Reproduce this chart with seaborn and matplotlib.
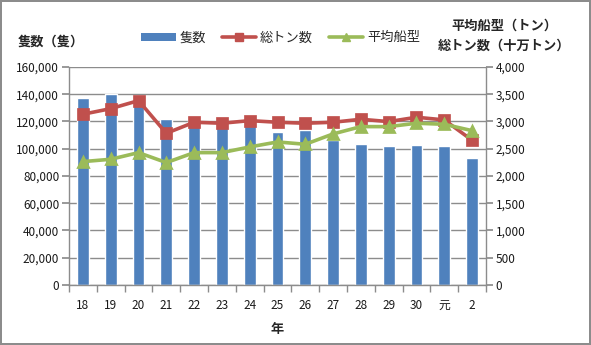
import matplotlib
matplotlib.use("Agg")
import matplotlib.pyplot as plt
import seaborn as sns
import numpy as np
import pandas as pd
from matplotlib.lines import Line2D
from matplotlib.patches import Patch
from matplotlib.ticker import FuncFormatter, MultipleLocator, FixedLocator

years = ["18", "19", "20", "21", "22", "23", "24", "25", "26", "27", "28", "29", "30", "元", "2"]
ships = [137300, 140200, 138200, 121800, 121000, 119800, 117400, 112500, 113800, 106400, 103500, 102000, 102700, 102000, 93200]
gross_tons = [3132, 3235, 3382, 2783, 2985, 2967, 3015, 2985, 2967, 2985, 3040, 2997, 3077, 3028, 2655]
avg_size = [2263, 2306, 2428, 2245, 2428, 2428, 2532, 2624, 2581, 2771, 2905, 2905, 2967, 2948, 2831]

sns.set_theme(style="white")
plt.rcParams['font.family'] = ['Noto Sans CJK JP', 'DejaVu Sans']

BLUE = "#4F81BD"
RED = "#C0504D"
GREEN = "#9BBB59"
GRID = "#8C8C8C"

fig = plt.figure(figsize=(5.91, 3.45), dpi=100)
fig.patch.set_edgecolor("#8C8C8C")
fig.patch.set_linewidth(1.5)
ax = fig.add_axes([0.1168, 0.174, 0.7055, 0.632])

df_bar = pd.DataFrame({"year": years, "ships": ships})
sns.barplot(data=df_bar, x="year", y="ships", order=years, color=BLUE,
            width=0.42, saturation=1, ax=ax, zorder=2)

ax2 = ax.twinx()
df_line = pd.DataFrame({
    "year": years * 2,
    "value": gross_tons + avg_size,
    "series": ["総トン数"] * len(years) + ["平均船型"] * len(years),
})
sns.pointplot(data=df_line, x="year", y="value", hue="series", order=years,
              hue_order=["総トン数", "平均船型"], palette=[RED, GREEN],
              markers=["s", "^"], linestyles=["-", "-"], ax=ax2,
              markersize=7, linewidth=2.6, legend=False)

ax.set_xlim(-0.5, len(years) - 0.5)
ax.set_ylim(0, 160000)
ax2.set_ylim(0, 4000)
ax.yaxis.set_major_locator(MultipleLocator(20000))
ax2.yaxis.set_major_locator(MultipleLocator(500))
ax.yaxis.set_major_formatter(FuncFormatter(lambda v, p: f"{int(v):,}"))
ax2.yaxis.set_major_formatter(FuncFormatter(lambda v, p: f"{int(v):,}"))

ax.grid(axis="y", color=GRID, linewidth=1)
ax.set_axisbelow(True)
ax2.grid(False)

for a in (ax, ax2):
    for s in a.spines.values():
        s.set_visible(False)
ax.spines["left"].set_visible(True)
ax.spines["bottom"].set_visible(True)
ax2.spines["right"].set_visible(True)
for s in [ax.spines["left"], ax.spines["bottom"], ax2.spines["right"]]:
    s.set_color(GRID)
    s.set_linewidth(1)

ax.set_xlabel("年", fontsize=9.5, fontweight="bold", labelpad=7)
ax.set_ylabel("")
ax2.set_ylabel("")
ax2.set_xlabel("")

ax.tick_params(axis="y", which="major", direction="out", length=5, color=GRID,
               labelsize=8.5, labelcolor="#1a1a1a", pad=2, left=True)
ax2.tick_params(axis="y", which="major", direction="out", length=5, color=GRID,
                labelsize=8.5, labelcolor="#1a1a1a", pad=2, right=True)
ax.tick_params(axis="x", which="major", length=0, labelsize=8.5, labelcolor="#1a1a1a", pad=10)
ax.xaxis.set_minor_locator(FixedLocator(np.arange(-0.5, len(years), 1.0)))
ax.tick_params(axis="x", which="minor", direction="out", length=5, color=GRID, bottom=True)

fig.text(0.03, 0.88, "隻数（隻）", fontsize=9.5, fontweight="bold", ha="left", va="center")
fig.text(0.853, 0.925, "平均船型（トン）", fontsize=9.5, fontweight="bold", ha="center", va="center")
fig.text(0.853, 0.868, "総トン数（十万トン）", fontsize=9.5, fontweight="bold", ha="center", va="center")

handles = [
    Patch(facecolor=BLUE, edgecolor="none"),
    Line2D([0], [0], color=RED, lw=2.6, marker="s", markersize=6),
    Line2D([0], [0], color=GREEN, lw=2.6, marker="^", markersize=6),
]
fig.legend(handles, ["隻数", "総トン数", "平均船型"], loc="center", bbox_to_anchor=(0.475, 0.89),
           ncol=3, frameon=False, fontsize=9.5, handlelength=2.6, handleheight=0.5,
           columnspacing=1.2, handletextpad=0.3)

fig.savefig("out.png", dpi=100)
